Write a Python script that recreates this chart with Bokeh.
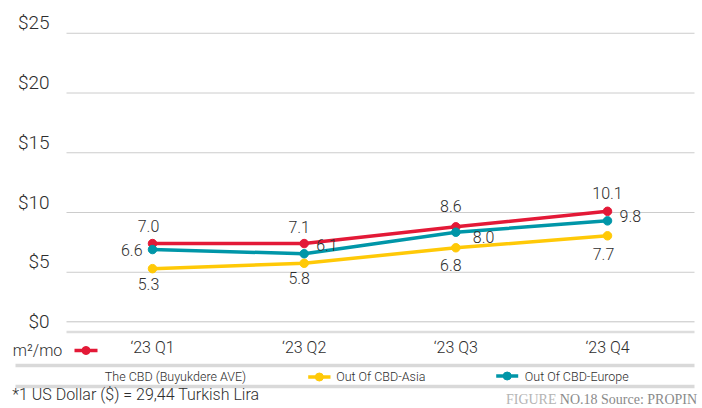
from bokeh.plotting import figure
from bokeh.models import Range1d
from bokeh.core.properties import value
from bokeh.embed import file_html
from bokeh.resources import INLINE

# ---------------- data ----------------
quarters = ["‘23 Q1", "‘23 Q2", "‘23 Q3", "‘23 Q4"]
cbd = [7.4, 7.4, 8.8, 10.1]          # The CBD (Buyukdere AVE)
asia = [5.3, 5.75, 7.05, 8.05]       # Out Of CBD-Asia
europe = [6.9, 6.55, 8.35, 9.3]      # Out Of CBD-Europe
cbd_labels = ["7.0", "7.1", "8.6", "10.1"]
asia_labels = ["5.3", "5.8", "6.8", "7.7"]
europe_labels = ["6.6", "6.1", "8.0", "9.8"]
y_ticks = [0, 5, 10, 15, 20, 25]
y_tick_labels = ["$0", "$5", "$10", "$15", "$20", "$25"]
series_names = ["The CBD (Buyukdere AVE)", "Out Of CBD-Asia", "Out Of CBD-Europe"]

RED, YELLOW, TEAL = "#e31937", "#ffc907", "#0096a8"
TXT = "#2e2e2e"
FONT = value("Roboto Light, Roboto")

# ---------------- layout ----------------
W, H = 702, 408
PX_X = 151.67            # pixels per category step
PX_Y = 11.95             # pixels per dollar
X0 = -152 / PX_X
X1 = X0 + W / PX_X
Y0 = -(H - 331.5) / PX_Y
Y1 = Y0 + H / PX_Y


def px(sx):
    return (sx - 152) / PX_X


def py(sy):
    return (331.5 - sy) / PX_Y


p = figure(width=W, height=H, x_range=Range1d(X0, X1), y_range=Range1d(Y0, Y1),
           x_axis_type=None, y_axis_type=None, toolbar_location=None,
           output_backend="svg", min_border=0, outline_line_color=None)
p.background_fill_color = "white"
p.border_fill_color = "white"

xs = list(range(len(quarters)))

# grid lines
grid_vals = [t for t in y_ticks if t > 0]
p.segment(x0=[px(66)] * len(grid_vals), x1=[px(694)] * len(grid_vals), y0=grid_vals, y1=grid_vals,
          line_color="#cccccc", line_width=1)
p.segment(x0=[px(66)], x1=[px(694)], y0=[py(321.3)], y1=[py(321.3)], line_color="#c4c4c4", line_width=1)
p.segment(x0=[px(66)], x1=[px(694)], y0=[0], y1=[0], line_color="#dddddd", line_width=2.5)

# y tick labels
p.text(x=[px(49)] * len(y_ticks), y=y_ticks, text=y_tick_labels, text_align="right",
       text_baseline="middle", y_offset=-10.5, text_font=FONT, text_font_size=value("19px"),
       text_color=TXT)

# series
for vals, col in [(cbd, RED), (asia, YELLOW), (europe, TEAL)]:
    p.line(xs, vals, line_color=col, line_width=3.5)
    p.scatter(xs, vals, size=8.5, fill_color=col, line_color=col)

# data labels
lab_kw = dict(text_font=FONT, text_font_size=value("16px"), text_color=TXT,
              text_baseline="middle")
p.text(x=xs, y=cbd, text=cbd_labels, text_align="center",
       x_offset=[-4, -5, -5, 0], y_offset=[-18, -17, -21, -18], **lab_kw)
p.text(x=xs, y=asia, text=asia_labels, text_align="center",
       x_offset=[-4, -5, -5, -4], y_offset=[15, 15, 17, 18], **lab_kw)
p.text(x=xs[:1], y=europe[:1], text=europe_labels[:1], text_align="right",
       x_offset=-10, y_offset=0, **lab_kw)
p.text(x=xs[1:], y=europe[1:], text=europe_labels[1:], text_align="left",
       x_offset=[12, 17, 12], y_offset=[-9, 5, -5], **lab_kw)

# x tick labels
p.text(x=xs, y=[py(347)] * len(xs), text=quarters, text_align="center", text_baseline="middle",
       text_font=FONT, text_font_size=value("16px"), text_color=TXT)

# unit + red legend marker
p.text(x=[px(12.3)], y=[py(350)], text=["m²/mo"], text_align="left", text_baseline="middle",
       text_font=FONT, text_font_size=value("16px"), text_color=TXT)

# separator bands
for yy in (py(365), py(386)):
    p.segment(x0=[px(15)], x1=[px(694)], y0=[yy], y1=[yy], line_color="#d9d9d9", line_width=3.5)

# legend entries
def legend_marker(x_left, x_right, yy, col):
    p.segment(x0=[px(x_left)], x1=[px(x_right)], y0=[py(yy)], y1=[py(yy)],
              line_color=col, line_width=3.5)
    p.scatter([px((x_left + x_right) / 2)], [py(yy)], size=8, fill_color=col, line_color=col)

legend_marker(74, 97, 350, RED)
legend_marker(307.7, 330, 376.5, YELLOW)
legend_marker(495.7, 517.7, 375.5, TEAL)

leg_kw = dict(text_font=FONT, text_font_size=value("12.5px"), text_color=TXT, text_baseline="middle")
p.text(x=[px(175)], y=[py(376)], text=[series_names[0]], text_align="center", **leg_kw)
p.text(x=[px(335.7)], y=[py(376)], text=[series_names[1]], text_align="left", **leg_kw)
p.text(x=[px(524.3)], y=[py(376)], text=[series_names[2]], text_align="left", **leg_kw)

# footer
p.text(x=[px(11.7)], y=[py(394)], text=["*1 US Dollar ($) = 29,44 Turkish Lira"],
       text_align="left", text_baseline="middle", text_font=FONT,
       text_font_size=value("16px"), text_color=TXT)
p.text(x=[px(556)], y=[py(399)], text=["FIGURE"], text_align="right", text_baseline="middle",
       text_font=value("Liberation Serif"), text_font_size=value("14px"), text_color="#b4b4b4")
p.text(x=[px(559.3)], y=[py(399)], text=["NO.18 Source: PROPIN"], text_align="left",
       text_baseline="middle", text_font=value("Liberation Serif"),
       text_font_size=value("14px"), text_color="#8a8a8a")

open("out.html", "w").write(file_html(p, INLINE))
